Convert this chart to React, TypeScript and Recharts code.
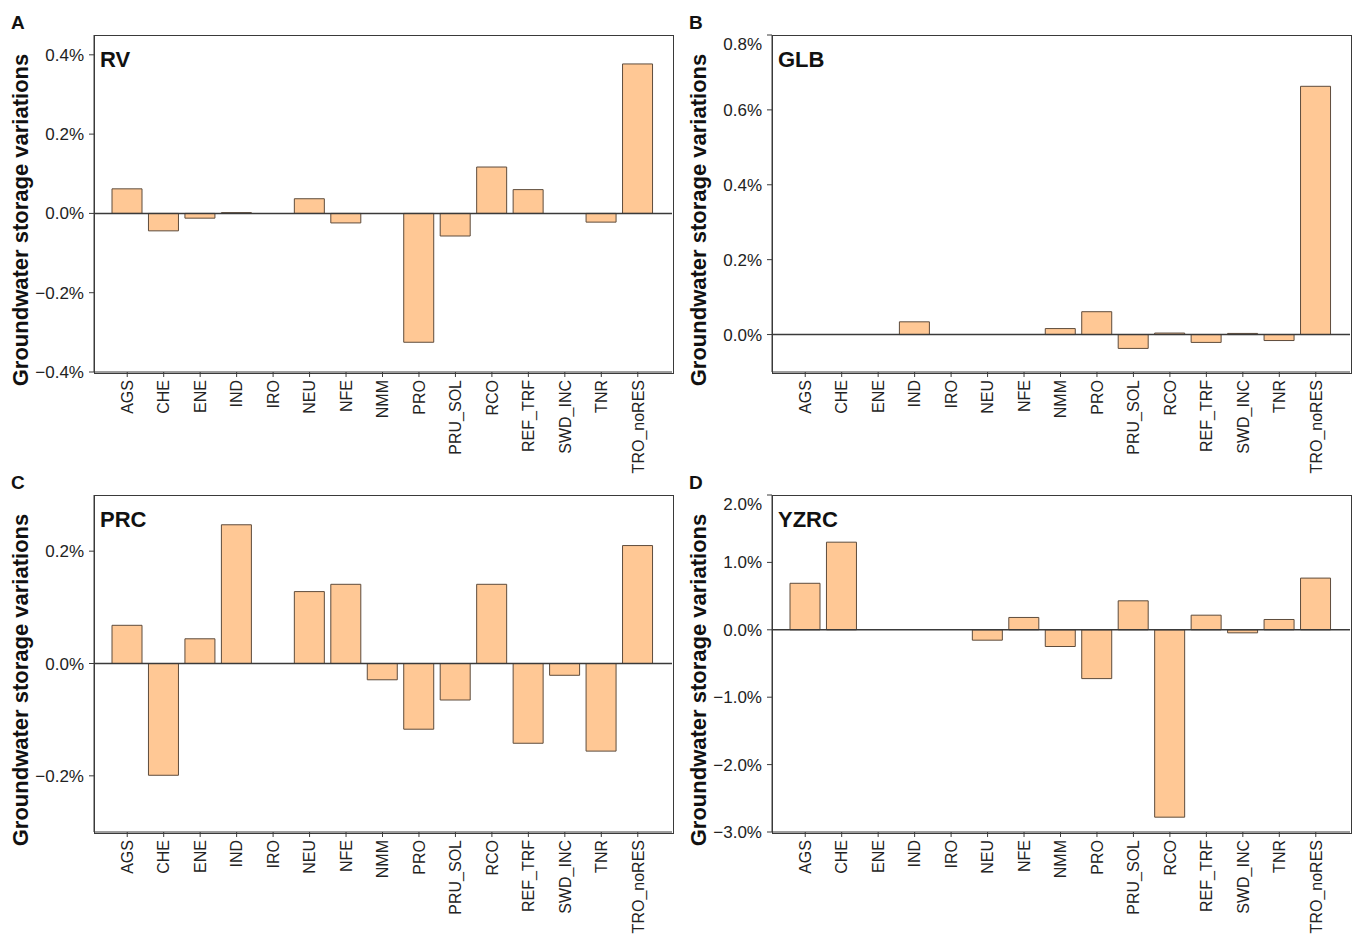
import { BarChart, Bar, XAxis, YAxis, ReferenceLine } from 'recharts'

const categories = ['AGS', 'CHE', 'ENE', 'IND', 'IRO', 'NEU', 'NFE', 'NMM', 'PRO', 'PRU_SOL', 'RCO', 'REF_TRF', 'SWD_INC', 'TNR', 'TRO_noRES']

const rvValues = [0.062, -0.044, -0.012, 0.002, 0, 0.037, -0.024, 0, -0.325, -0.057, 0.117, 0.06, 0, -0.022, 0.377]
const glbValues = [0, 0, 0, 0.034, 0, 0, 0, 0.016, 0.061, -0.037, 0.004, -0.021, 0.003, -0.016, 0.663]
const prcValues = [0.068, -0.199, 0.044, 0.247, 0, 0.128, 0.141, -0.029, -0.117, -0.065, 0.141, -0.142, -0.021, -0.156, 0.21]
const yzrcValues = [0.69, 1.3, 0, 0, 0, -0.154, 0.183, -0.248, -0.724, 0.43, -2.78, 0.217, -0.045, 0.153, 0.767]

const rvTicks = [-0.4, -0.2, 0, 0.2, 0.4]
const glbTicks = [0, 0.2, 0.4, 0.6, 0.8]
const prcTicks = [-0.2, 0, 0.2]
const yzrcTicks = [-3, -2, -1, 0, 1, 2]

const FONT = '"Liberation Sans", Arial, sans-serif'
const FILL = '#ffc895'
const EDGE = '#5e4c3c'
const AXIS = '#3a3a3a'
const TEXT = '#222'

const PLOT_W = 578
const PLOT_H = 337
const Y_W = 94
const X_H = 110

const fmtPct = (v: number) => (v < 0 ? '\u2212' : '') + Math.abs(v).toFixed(1) + '%'

const XTick = ({ x, y, payload }: any) => (
  <g transform={`translate(${x},${y})`}>
    <text
      transform="rotate(-90)"
      textAnchor="end"
      dy="0.36em"
      fill={TEXT}
      style={{ fontFamily: FONT, fontSize: '16px' }}
    >
      {payload.value}
    </text>
  </g>
)

interface PanelProps {
  letter: string
  title: string
  values: number[]
  ticks: number[]
  domain: [number, number]
  plotLeft: number
  plotTop: number
}

const Panel = ({ letter, title, values, ticks, domain, plotLeft, plotTop }: PanelProps) => {
  const data = categories.map((name, i) => ({ name, value: values[i] }))

  const chartStyle: React.CSSProperties = {
    position: 'absolute',
    left: plotLeft - Y_W,
    top: plotTop - 1,
  }

  // panel border (top and right sides come from here)
  const frameStyle: React.CSSProperties = {
    position: 'absolute',
    left: plotLeft - 0.5,
    top: plotTop - 0.5,
    width: PLOT_W,
    height: PLOT_H,
    border: `1px solid ${AXIS}`,
    pointerEvents: 'none',
  }

  const letterStyle: React.CSSProperties = {
    position: 'absolute',
    left: plotLeft - 83,
    top: plotTop - 22,
    fontFamily: FONT,
    fontWeight: 700,
    fontSize: '19px',
    lineHeight: 1,
    color: '#111',
  }

  const titleStyle: React.CSSProperties = {
    position: 'absolute',
    left: plotLeft + 6,
    top: plotTop + 14,
    fontFamily: FONT,
    fontWeight: 700,
    fontSize: '22px',
    lineHeight: 1,
    color: '#111',
  }

  const yTitleStyle: React.CSSProperties = {
    position: 'absolute',
    left: plotLeft - 73,
    top: plotTop + 185,
    transform: 'translate(-50%, -50%) rotate(-90deg)',
    whiteSpace: 'nowrap',
    fontFamily: FONT,
    fontWeight: 700,
    fontSize: '22px',
    lineHeight: 1,
    color: '#111',
  }

  return (
    <>
      <div style={chartStyle}>
        <BarChart
          width={Y_W + PLOT_W + 2}
          height={1 + PLOT_H + X_H}
          data={data}
          margin={{ top: 1, right: 2, left: 0, bottom: 0 }}
          barSize={30}
        >
          <XAxis
            dataKey="name"
            interval={0}
            padding={{ left: 15, right: 16 }}
            height={X_H}
            stroke={AXIS}
            tickSize={5}
            tickMargin={3}
            tick={<XTick />}
          />
          <YAxis
            type="number"
            domain={domain}
            ticks={ticks}
            allowDataOverflow
            width={Y_W}
            stroke={AXIS}
            tickSize={5}
            tickMargin={5}
            tickFormatter={fmtPct}
            tick={{ fill: TEXT, fontFamily: FONT, fontSize: 17 }}
          />
          <Bar dataKey="value" fill={FILL} stroke={EDGE} strokeWidth={1} isAnimationActive={false} />
          <ReferenceLine y={0} stroke={AXIS} strokeWidth={1.5} />
        </BarChart>
      </div>
      <div style={frameStyle} />
      <div style={letterStyle}>{letter}</div>
      <div style={titleStyle}>{title}</div>
      <div style={yTitleStyle}>Groundwater storage variations</div>
    </>
  )
}

const App = () => {
  const pageStyle: React.CSSProperties = {
    position: 'absolute',
    left: 0,
    top: 0,
    width: 1354,
    height: 947,
    background: '#fff',
    overflow: 'hidden',
  }

  return (
    <div style={pageStyle}>
      <Panel letter="A" title="RV" values={rvValues} ticks={rvTicks} domain={[-0.4, 0.45]} plotLeft={94} plotTop={35} />
      <Panel letter="B" title="GLB" values={glbValues} ticks={glbTicks} domain={[-0.1, 0.8]} plotLeft={772} plotTop={35} />
      <Panel letter="C" title="PRC" values={prcValues} ticks={prcTicks} domain={[-0.3, 0.3]} plotLeft={94} plotTop={495} />
      <Panel letter="D" title="YZRC" values={yzrcValues} ticks={yzrcTicks} domain={[-3, 2]} plotLeft={772} plotTop={495} />
    </div>
  )
}

export default App
